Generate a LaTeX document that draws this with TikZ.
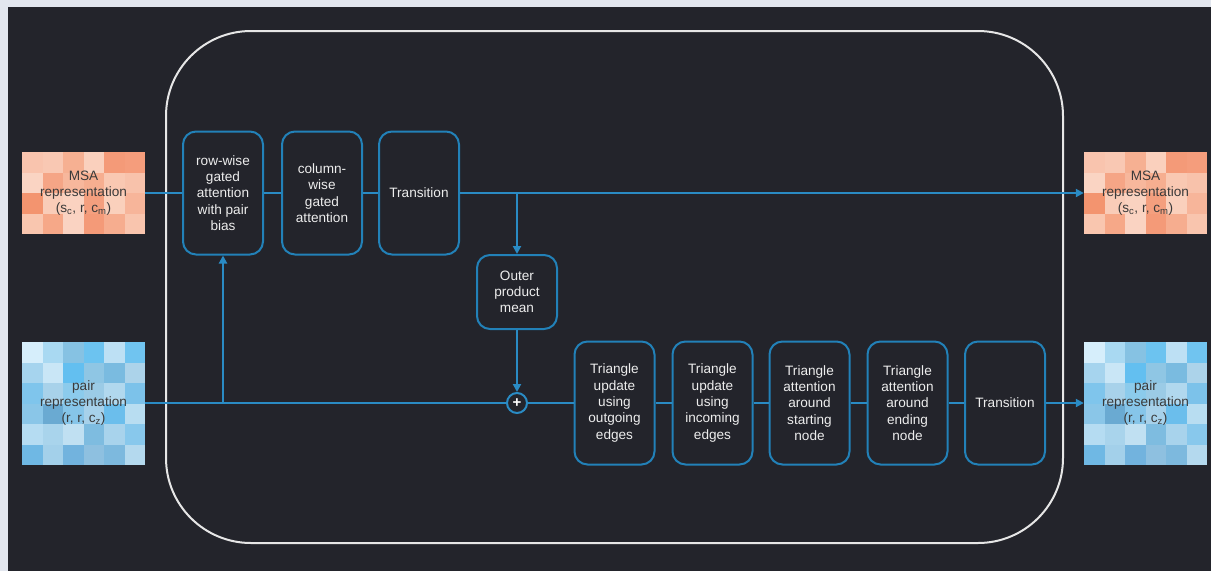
\documentclass[tikz,border=0pt]{standalone}
\usepackage{fontspec}
\setmainfont{Liberation Sans}
\usetikzlibrary{arrows.meta}
\definecolor{pagebg}{HTML}{E2E6EE}
\definecolor{darkbg}{HTML}{23242B}
\definecolor{blockblue}{HTML}{2281B8}
\definecolor{lineblue}{HTML}{2A8BC4}
\definecolor{framecol}{HTML}{E6E6E6}
\definecolor{boxtext}{HTML}{EDEDED}
\definecolor{reptext}{HTML}{3A3A3A}
\newcommand\drawgrid[4]{%
  \foreach \c [count=\i from 0] in #4 {
    \definecolor{cellc}{HTML}{\c}
    \pgfmathtruncatemacro\gcol{mod(\i,#3)}
    \pgfmathtruncatemacro\grow{int(\i/#3)}
    \fill[cellc] ({#1+\gcol*20.5},{#2+\grow*20.5}) rectangle ++(20.5,20.5);
  }}
\newcommand\msacolors{F9C4AE,F9C8B3,F6B092,FAD0BD,F49A78,F59D7C,FAD4C3,F5A586,F7B79C,F6AE90,F9C8B2,F8C2AB,F3946F,F9CCB8,FAD2C0,F49F7E,FAD0BC,F7B59A,F9C6AF,F6A888,FAD3C2,F49A78,F6AD8F,F9C5AE}
\newcommand\paircolors{D6EEFB,A9D9F2,86C2E3,6CC3F0,BDE0F4,70C4F0,A6D4EE,C9E6F6,63BFF0,8FC6E4,7ABBE0,ACD3EA,7FC5EC,A8D2EA,8CCBEC,9BCBE6,B1D8EE,7CC2EA,8AC6E8,6AAAD2,86C5E9,A7D1EA,6BBEEC,B8DDF1,B5DCF2,A9D4EC,C0E0F2,7EBCE0,A8D3EC,88C8EC,6FB8E4,A3D0EA,72B3DE,8EC0E0,7DB9DE,B4D9EE}
\tikzset{
  txt/.style={align=center, font=\fontsize{13.6}{16.3}\selectfont},
  block/.style={txt, draw=blockblue, line width=2pt, rounded corners=13pt,
    minimum width=80pt, minimum height=123pt, inner sep=0pt, text=boxtext},
  rep/.style={txt, minimum width=123pt, inner sep=0pt, text=reptext},
  conn/.style={draw=lineblue, line width=2pt},
  arr/.style={conn, -{Triangle[length=8pt,width=8pt]}},
}
\begin{document}
\begin{tikzpicture}[x=1pt,y=-1pt]
\useasboundingbox (0,0) rectangle (1211,571);
\fill[pagebg] (0,0) rectangle (1211,571);
\fill[darkbg] (8,7) rectangle (1211,571);
% grids
\drawgrid{22}{152}{6}{\msacolors}
\drawgrid{1084}{152}{6}{\msacolors}
\drawgrid{22}{342}{6}{\paircolors}
\drawgrid{1084}{342}{6}{\paircolors}
% frame
\node[draw=framecol, line width=2pt, rounded corners=85pt, minimum width=897pt,
  minimum height=512pt, inner sep=0pt] (frame) at (614.5,287) {};
% representation nodes
\node[rep, minimum height=82pt] (msain) at (83.5,193) {MSA\\representation\\(s\textsubscript{c}, r, c\textsubscript{m})};
\node[rep, minimum height=82pt] (msaout) at (1145.5,193) {MSA\\representation\\(s\textsubscript{c}, r, c\textsubscript{m})};
\node[rep, minimum height=123pt] (pairin) at (83.5,403) {pair\\representation\\(r, r, c\textsubscript{z})};
\node[rep, minimum height=123pt] (pairout) at (1145.5,403) {pair\\representation\\(r, r, c\textsubscript{z})};
% MSA blocks
\node[block] (row) at (223,193) {row-wise\\gated\\attention\\with pair\\bias};
\node[block] (col) at (322,193) {column-\\wise\\gated\\attention};
\node[block] (trans1) at (419,193) {Transition};
\node[block, minimum height=74pt] (opm) at (517,292) {Outer\\product\\mean};
\node[circle, draw=lineblue, line width=2pt, fill=darkbg, minimum size=20pt, inner sep=0pt,
  text=white, font=\fontsize{15}{15}\selectfont\bfseries] (plus) at (517,403) {+};
% pair blocks
\node[block] (tri1) at (614.5,403) {Triangle\\update\\using\\outgoing\\edges};
\node[block] (tri2) at (712.5,403) {Triangle\\update\\using\\incoming\\edges};
\node[block] (tri3) at (809.5,403) {Triangle\\attention\\around\\starting\\node};
\node[block] (tri4) at (907.5,403) {Triangle\\attention\\around\\ending\\node};
\node[block] (trans2) at (1005,403) {Transition};
% junctions
\coordinate (j1) at (517,193);
\coordinate (j2) at (223,403);
% connectors
\draw[conn] (msain.east) -- (row.west);
\draw[conn] (row.east) -- (col.west);
\draw[conn] (col.east) -- (trans1.west);
\draw[arr] (trans1.east) -- (msaout.west);
\draw[arr] (j1) -- (opm.north);
\draw[arr] (opm.south) -- (plus.north);
\draw[conn] (pairin.east) -- (plus.west);
\draw[arr] (j2) -- (row.south);
\draw[conn] (plus.east) -- (tri1.west);
\draw[conn] (tri1.east) -- (tri2.west);
\draw[conn] (tri2.east) -- (tri3.west);
\draw[conn] (tri3.east) -- (tri4.west);
\draw[conn] (tri4.east) -- (trans2.west);
\draw[arr] (trans2.east) -- (pairout.west);
\end{tikzpicture}
\end{document}
